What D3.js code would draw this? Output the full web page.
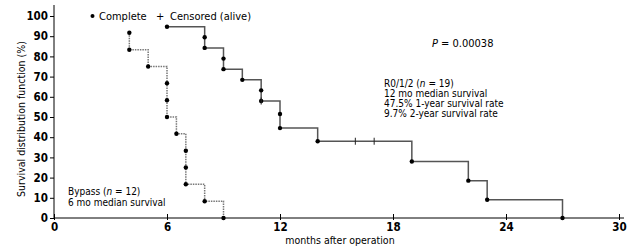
<!DOCTYPE html>
<html>
<head>
<meta charset="utf-8">
<script src="https://cdn.jsdelivr.net/npm/d3@7"></script>
<style>
  body { margin: 0; background: #fff; }
  svg text { font-family: "DejaVu Sans Condensed", "DejaVu Sans", sans-serif; fill: #000; }
</style>
</head>
<body>
<svg id="chart"></svg>
<script>
const width = 630;
const height = 252;

// Bypass group (n = 12)
const bypassTime = [4, 4, 5, 6, 6, 6, 6.5, 7, 7, 7, 8, 9];
const bypassSurv = [91.7, 83.3, 75, 66.7, 58.3, 50, 41.7, 33.3, 25, 16.7, 8.3, 0];

// R0/1/2 group (n = 19)
const resectTime = [6, 8, 8, 9, 9, 10, 11, 11, 12, 12, 14, 19, 22, 23, 27];
const resectSurv = [94.7, 89.5, 84.2, 78.9, 73.7, 68.4, 63.2, 57.9, 51.5, 44.5, 38, 28, 18.5, 9, 0];

// censored (alive)
const censorTime = [11, 16, 17];
const censorSurv = [57.9, 38, 38];

const xTicks = [0, 6, 12, 18, 24, 30];
const yTicks = [0, 10, 20, 30, 40, 50, 60, 70, 80, 90, 100];

const resectNotes = ["R0/1/2 (n = 19)", "12 mo median survival", "47.5% 1-year survival rate", "9.7% 2-year survival rate"];
const bypassNotes = ["Bypass (n = 12)", "6 mo median survival"];

const svg = d3.select("#chart")
  .attr("width", width)
  .attr("height", height);

const x = d3.scaleLinear().domain([0, 30]).range([54, 619]);
const y = d3.scaleLinear().domain([0, 100]).range([218, 16]);

// axes
const yAxis = svg.append("g")
  .attr("transform", `translate(${x(0)},0)`)
  .call(d3.axisLeft(y).tickValues(yTicks).tickSize(4).tickSizeOuter(0));
yAxis.select(".domain").attr("d", `M0,5V${y(0)}`);
yAxis.selectAll("text")
  .attr("x", -6)
  .style("font-size", "11.5px")
  .style("font-weight", "bold");

const xAxis = svg.append("g")
  .attr("transform", `translate(0,${y(0)})`)
  .call(d3.axisBottom(x).tickValues(xTicks).tickSize(2).tickSizeOuter(0));
xAxis.select(".domain").attr("d", `M${x(0)},0H624`);
xAxis.selectAll(".tick line").attr("y1", -4);
xAxis.selectAll("text")
  .attr("y", 5)
  .style("font-size", "11.5px")
  .style("font-weight", "bold");
svg.selectAll(".tick text").style("font-family", '"DejaVu Sans Condensed", sans-serif');
svg.selectAll(".domain, .tick line").attr("stroke", "#000");

// axis titles
svg.append("text")
  .attr("transform", `translate(25,${(y(0) + y(100)) / 2 + 2}) rotate(-90)`)
  .attr("text-anchor", "middle")
  .style("font-size", "10.5px")
  .text("Survival distribution function (%)");

svg.append("text")
  .attr("x", 340)
  .attr("y", 244)
  .attr("text-anchor", "middle")
  .style("font-size", "10.5px")
  .text("months after operation");

// step curves
const step = d3.line()
  .x(d => x(d[0]))
  .y(d => y(d[1]))
  .curve(d3.curveStepAfter);

svg.append("path")
  .datum(bypassTime.map((t, i) => [t, bypassSurv[i]]))
  .attr("d", step)
  .attr("fill", "none")
  .attr("stroke", "#777")
  .attr("stroke-width", 1.5)
  .attr("stroke-dasharray", "1.5,1");

svg.append("path")
  .datum(resectTime.map((t, i) => [t, resectSurv[i]]))
  .attr("d", step)
  .attr("fill", "none")
  .attr("stroke", "#555")
  .attr("stroke-width", 1.5);

// event dots
svg.append("g").selectAll("circle")
  .data(bypassTime.map((t, i) => [t, bypassSurv[i]])
    .concat(resectTime.map((t, i) => [t, resectSurv[i]])))
  .join("circle")
  .attr("cx", d => x(d[0]))
  .attr("cy", d => y(d[1]))
  .attr("r", 2.2)
  .attr("fill", "#000");

// censor ticks
svg.append("g").selectAll("line")
  .data(censorTime.map((t, i) => [t, censorSurv[i]]))
  .join("line")
  .attr("x1", d => x(d[0]))
  .attr("x2", d => x(d[0]))
  .attr("y1", d => y(d[1]) - 3.5)
  .attr("y2", d => y(d[1]) + 3.5)
  .attr("stroke", "#222")
  .attr("stroke-width", 1);

// legend
svg.append("circle").attr("cx", 92.5).attr("cy", 16).attr("r", 2).attr("fill", "#000");
svg.append("text").attr("x", 99).attr("y", 20).style("font-size", "11px").text("Complete");
svg.append("text").attr("x", 156).attr("y", 20).style("font-size", "11px").text("+");
svg.append("text").attr("x", 170).attr("y", 20).style("font-size", "11px").text("Censored (alive)");

// P value
const pText = svg.append("text").attr("x", 432).attr("y", 47).style("font-size", "11px");
pText.append("tspan").style("font-style", "italic").text("P");
pText.append("tspan").text(" = 0.00038");

// annotations
function notes(lines, x0, y0, dy) {
  const t = svg.append("text").style("font-size", "10px");
  lines.forEach((s, i) => {
    const ts = t.append("tspan").attr("x", x0).attr("y", y0 + i * dy);
    const m = s.match(/^(.*\()n( = .*)$/);
    if (m) {
      ts.append("tspan").text(m[1]);
      ts.append("tspan").style("font-style", "italic").text("n");
      ts.append("tspan").text(m[2]);
    } else {
      ts.text(s);
    }
  });
}
notes(resectNotes, 384, 87, 10);
notes(bypassNotes, 68, 195, 10.5);
</script>
</body>
</html>
